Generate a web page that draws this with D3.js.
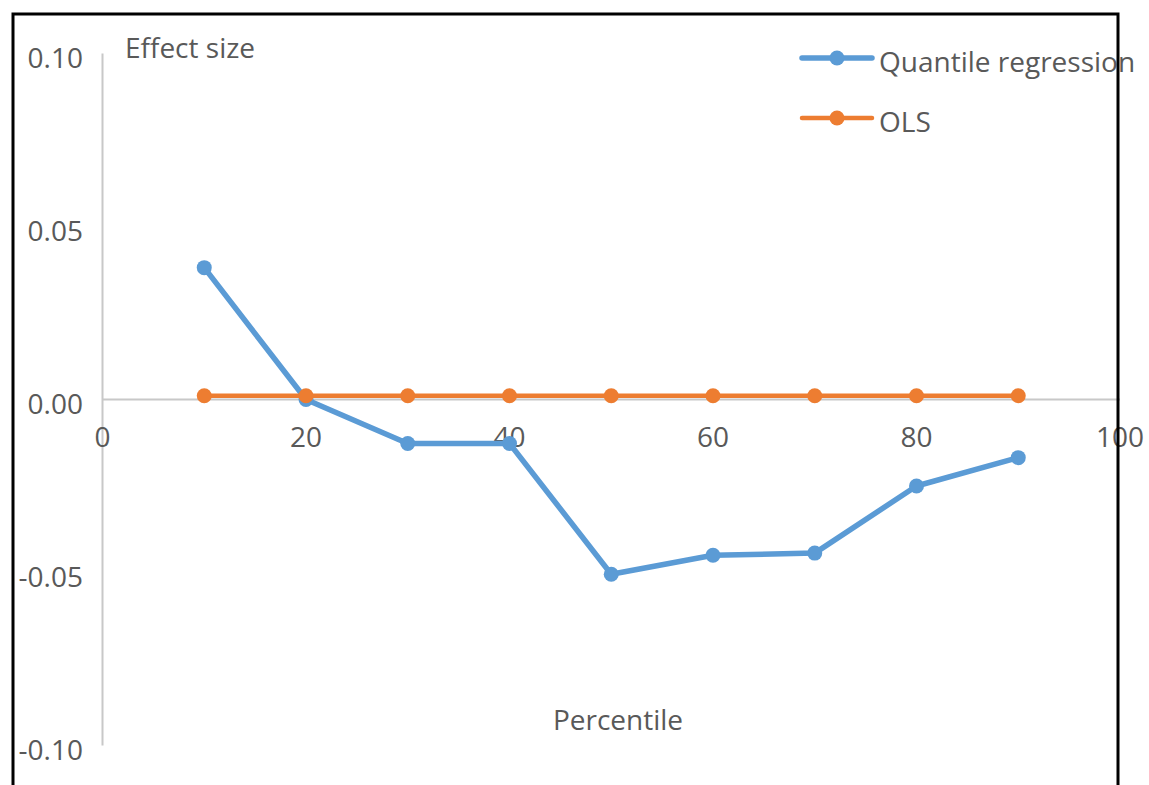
<!DOCTYPE html>
<html>
<head>
<meta charset="utf-8">
<script src="https://cdn.jsdelivr.net/npm/d3@7"></script>
<style>
  body { margin: 0; background: #fff; }
  text { font-family: "Open Sans", "Noto Sans", sans-serif; fill: #595959; }
</style>
</head>
<body>
<div id="chart"></div>
<script>
var percentiles = [10, 20, 30, 40, 50, 60, 70, 80, 90];
var quantileValues = [0.0381, 0.0000, -0.0127, -0.0127, -0.0505, -0.0450, -0.0444, -0.0250, -0.0168];
var olsValues = [0.0011, 0.0011, 0.0011, 0.0011, 0.0011, 0.0011, 0.0011, 0.0011, 0.0011];
var xTicks = [0, 20, 40, 60, 80, 100];
var yTicks = [0.10, 0.05, 0.00, -0.05, -0.10];
var seriesNames = ["Quantile regression", "OLS"];

var colors = { "Quantile regression": "#5b9bd5", "OLS": "#ed7d31" };

var width = 1149, height = 785;

var svg = d3.select("#chart")
  .append("svg")
  .attr("width", width)
  .attr("height", height);

var x = d3.scaleLinear().domain([0, 100]).range([102.5, 1120]);
var y = d3.scaleLinear().domain([-0.10, 0.10]).range([745.5, 53.5]);

// hyphen minus, like the original, instead of d3's unicode minus
var fmt = function (d) { return d3.format(".2f")(d).replace("\u2212", "-"); };

// axis lines
svg.append("line")
  .attr("x1", x(0)).attr("x2", x(0))
  .attr("y1", y(0.10)).attr("y2", y(-0.10))
  .attr("stroke", "#c8c8c8").attr("stroke-width", 2);

svg.append("line")
  .attr("x1", x(0)).attr("x2", x(100))
  .attr("y1", y(0)).attr("y2", y(0))
  .attr("stroke", "#c8c8c8").attr("stroke-width", 2);

// tick labels
svg.selectAll(".ylabel")
  .data(yTicks)
  .enter()
  .append("text")
  .attr("class", "ylabel")
  .attr("x", 83)
  .attr("y", function (d) { return y(d) + 5; })
  .attr("dy", ".35em")
  .style("text-anchor", "end")
  .style("font-size", "28px")
  .text(fmt);

svg.selectAll(".xlabel")
  .data(xTicks)
  .enter()
  .append("text")
  .attr("class", "xlabel")
  .attr("x", function (d) { return x(d); })
  .attr("y", y(0) + 38)
  .attr("dy", ".35em")
  .style("text-anchor", "middle")
  .style("font-size", "28px")
  .text(function (d) { return d; });

// axis titles
svg.append("text")
  .attr("x", 125)
  .attr("y", 48)
  .attr("dy", ".35em")
  .style("font-size", "28px")
  .text("Effect size");

svg.append("text")
  .attr("x", 618)
  .attr("y", 720)
  .attr("dy", ".35em")
  .style("text-anchor", "middle")
  .style("font-size", "28px")
  .text("Percentile");

// series
var series = [
  { name: seriesNames[0], values: quantileValues, width: 5.5 },
  { name: seriesNames[1], values: olsValues, width: 4.5 }
];

var line = d3.line()
  .x(function (d) { return x(d[0]); })
  .y(function (d) { return y(d[1]); });

series.forEach(function (s) {
  var pts = percentiles.map(function (p, i) { return [p, s.values[i]]; });
  svg.append("path")
    .attr("d", line(pts))
    .attr("fill", "none")
    .attr("stroke", colors[s.name])
    .attr("stroke-width", s.width)
    .attr("stroke-linejoin", "round");
  svg.selectAll(".dot-" + s.name.replace(/\s/g, ""))
    .data(pts)
    .enter()
    .append("circle")
    .attr("cx", function (d) { return x(d[0]); })
    .attr("cy", function (d) { return y(d[1]); })
    .attr("r", 7.5)
    .attr("fill", colors[s.name]);
});

// legend
var legend = svg.selectAll(".legend")
  .data(series)
  .enter()
  .append("g")
  .attr("class", "legend")
  .attr("transform", function (d, i) { return "translate(0," + (58 + i * 60) + ")"; });

legend.append("line")
  .attr("x1", 802).attr("x2", 872)
  .attr("y1", 0).attr("y2", 0)
  .attr("stroke", function (d) { return colors[d.name]; })
  .attr("stroke-width", function (d) { return d.width; })
  .attr("stroke-linecap", "round");

legend.append("circle")
  .attr("cx", 837).attr("cy", 0).attr("r", 7.5)
  .attr("fill", function (d) { return colors[d.name]; });

legend.append("text")
  .attr("x", 879)
  .attr("y", 4)
  .attr("dy", ".35em")
  .style("font-size", "28px")
  .text(function (d) { return d.name; });

// frame
svg.append("path")
  .attr("d", "M13,800 L13,14 L1118,14 L1118,800")
  .attr("fill", "none")
  .attr("stroke", "#000")
  .attr("stroke-width", 3);
</script>
</body>
</html>
